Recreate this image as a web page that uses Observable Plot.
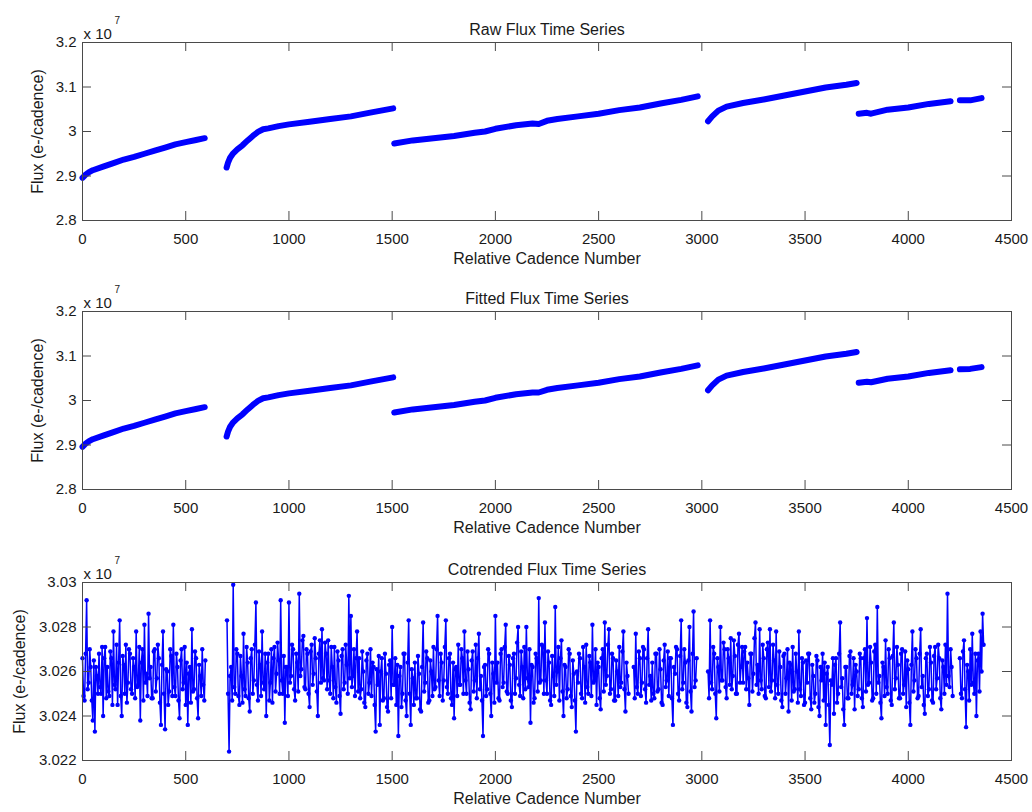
<!DOCTYPE html>
<html>
<head>
<meta charset="utf-8">
<script src="https://cdn.jsdelivr.net/npm/d3@7"></script>
<script src="https://cdn.jsdelivr.net/npm/@observablehq/plot@0.6"></script>
<style>
  body { margin: 0; background: #fff; }
  #chart { width: 1032px; height: 812px; position: relative; background: #fff; }
  #chart svg { display: block; }
</style>
</head>
<body>
<div id="chart"></div>
<script>
// ---------- Data (flux in units of 10^7 e-/cadence) ----------
const xTicks = [0, 500, 1000, 1500, 2000, 2500, 3000, 3500, 4000, 4500];
const trendYTicks = [2.8, 2.9, 3, 3.1, 3.2];
const cotrendYTicks = [3.022, 3.024, 3.026, 3.028, 3.03];
const titles = ["Raw Flux Time Series", "Fitted Flux Time Series", "Cotrended Flux Time Series"];
const xLabel = "Relative Cadence Number";
const yLabel = "Flux (e-/cadence)";

// null separates data gaps
const rawCadence = [
  0, 15, 30, 50, 100, 150, 200, 250, 300, 350, 400, 450, 500, 550, 592, null,
  698, 705, 715, 730, 750, 775, 800, 825, 850, 875, 900, 950, 1000, 1100, 1200, 1300, 1400, 1505, null,
  1510, 1600, 1700, 1800, 1900, 1950, 2000, 2100, 2180, 2210, 2250, 2300, 2400, 2500, 2600, 2700, 2800, 2900, 2980, null,
  3030, 3050, 3080, 3120, 3200, 3300, 3400, 3500, 3600, 3700, 3750, null,
  3760, 3800, 3820, 3900, 4000, 4100, 4205, null,
  4250, 4300, 4355
];
const rawFlux = [
  2.896, 2.903, 2.908, 2.913, 2.921, 2.929, 2.937, 2.943, 2.950, 2.957, 2.964, 2.971, 2.976, 2.981, 2.985, null,
  2.919, 2.930, 2.941, 2.951, 2.960, 2.969, 2.980, 2.990, 2.999, 3.005, 3.007, 3.012, 3.016, 3.022, 3.028, 3.034, 3.043, 3.052, null,
  2.973, 2.980, 2.985, 2.990, 2.997, 3.000, 3.006, 3.014, 3.018, 3.017, 3.024, 3.028, 3.034, 3.040, 3.048, 3.054, 3.063, 3.071, 3.079, null,
  3.023, 3.034, 3.047, 3.056, 3.064, 3.072, 3.081, 3.090, 3.099, 3.105, 3.109, null,
  3.040, 3.042, 3.040, 3.049, 3.054, 3.062, 3.068, null,
  3.070, 3.070, 3.075
];
const fittedCadence = rawCadence;
const fittedFlux = [
  2.896, 2.903, 2.908, 2.913, 2.921, 2.929, 2.937, 2.943, 2.950, 2.957, 2.964, 2.971, 2.976, 2.981, 2.985, null,
  2.919, 2.930, 2.941, 2.951, 2.960, 2.969, 2.980, 2.990, 2.999, 3.005, 3.007, 3.012, 3.016, 3.022, 3.028, 3.034, 3.043, 3.052, null,
  2.973, 2.980, 2.985, 2.990, 2.997, 3.000, 3.006, 3.014, 3.018, 3.018, 3.024, 3.028, 3.034, 3.040, 3.048, 3.054, 3.063, 3.071, 3.079, null,
  3.023, 3.034, 3.047, 3.056, 3.064, 3.072, 3.081, 3.090, 3.099, 3.105, 3.109, null,
  3.040, 3.042, 3.041, 3.049, 3.054, 3.062, 3.068, null,
  3.070, 3.071, 3.075
];

// Cotrended flux: sampled every 5 cadences from the start of each segment
const cadenceStep = 5;
const cotrendStarts = [0, 700, 1510, 2670, 3030, 3760, 4250];
const cotrendSeg1 = [
  3.0266,3.0249, 3.0247,3.0268, 3.0292,3.0252, 3.0255,3.0270, 3.0262,3.0247, 3.0238,3.0265, 3.0233,3.0262, 3.0258,3.0250, 3.0268,3.0253, 3.0250,3.0271,
  3.0240,3.0266, 3.0271,3.0248, 3.0262,3.0251, 3.0249,3.0269, 3.0266,3.0245, 3.0278,3.0254, 3.0252,3.0272, 3.0245,3.0264, 3.0283,3.0249, 3.0240,3.0267,
  3.0263,3.0250, 3.0272,3.0246, 3.0255,3.0270, 3.0268,3.0252, 3.0250,3.0266, 3.0262,3.0248, 3.0278,3.0253, 3.0254,3.0271, 3.0238,3.0264, 3.0270,3.0247,
  3.0281,3.0255, 3.0259,3.0249, 3.0286,3.0257, 3.0262,3.0248, 3.0248,3.0269, 3.0270,3.0251, 3.0257,3.0272, 3.0266,3.0246, 3.0236,3.0263, 3.0278,3.0250,
  3.0234,3.0261, 3.0260,3.0245, 3.0251,3.0270, 3.0267,3.0249, 3.0281,3.0253, 3.0249,3.0268, 3.0262,3.0247, 3.0239,3.0265, 3.0270,3.0252, 3.0255,3.0271,
  3.0245,3.0264, 3.0236,3.0259, 3.0262,3.0246, 3.0279,3.0251, 3.0252,3.0269, 3.0266,3.0248, 3.0239,3.0263, 3.0258,3.0249, 3.0270,3.0254, 3.0247,3.0265];
const cotrendSeg2 = [
  3.0283,3.0250, 3.0224,3.0258, 3.0262,3.0247, 3.0299,3.0253, 3.0250,3.0270, 3.0268,3.0249, 3.0245,3.0267, 3.0258,3.0246, 3.0277,3.0252, 3.0249,3.0271,
  3.0264,3.0248, 3.0242,3.0266, 3.0270,3.0250, 3.0256,3.0272, 3.0291,3.0254, 3.0247,3.0269, 3.0263,3.0249, 3.0278,3.0255, 3.0252,3.0268, 3.0240,3.0264,
  3.0268,3.0247, 3.0255,3.0270, 3.0246,3.0266, 3.0271,3.0251, 3.0259,3.0273, 3.0265,3.0250, 3.0292,3.0256, 3.0250,3.0267, 3.0237,3.0262, 3.0262,3.0249,
  3.0291,3.0255, 3.0258,3.0272, 3.0270,3.0252, 3.0247,3.0268, 3.0264,3.0251, 3.0295,3.0258, 3.0261,3.0274, 3.0276,3.0253, 3.0252,3.0270, 3.0268,3.0250,
  3.0244,3.0269, 3.0272,3.0254, 3.0259,3.0275, 3.0266,3.0251, 3.0240,3.0268, 3.0274,3.0255, 3.0279,3.0257, 3.0256,3.0273, 3.0268,3.0252, 3.0274,3.0256,
  3.0250,3.0271, 3.0262,3.0248, 3.0271,3.0253, 3.0246,3.0269, 3.0265,3.0249, 3.0241,3.0267, 3.0270,3.0252, 3.0255,3.0272, 3.0263,3.0250, 3.0294,3.0257,
  3.0285,3.0253, 3.0258,3.0270, 3.0249,3.0266, 3.0278,3.0251, 3.0266,3.0248, 3.0252,3.0269, 3.0260,3.0246, 3.0244,3.0265, 3.0268,3.0250, 3.0255,3.0270,
  3.0249,3.0264, 3.0262,3.0245, 3.0233,3.0261, 3.0254,3.0267, 3.0236,3.0260, 3.0266,3.0247, 3.0248,3.0268, 3.0259,3.0244, 3.0242,3.0263, 3.0265,3.0248,
  3.0280,3.0254];
const cotrendSeg3 = [
  3.0254,3.0266, 3.0245,3.0263, 3.0231,3.0258, 3.0262,3.0244, 3.0250,3.0268, 3.0268,3.0247, 3.0240,3.0264, 3.0283,3.0250, 3.0236,3.0261, 3.0257,3.0245,
  3.0264,3.0248, 3.0248,3.0267, 3.0259,3.0243, 3.0242,3.0262, 3.0282,3.0251, 3.0255,3.0269, 3.0266,3.0246, 3.0247,3.0265, 3.0260,3.0249, 3.0271,3.0252,
  3.0253,3.0270, 3.0285,3.0256, 3.0249,3.0268, 3.0264,3.0247, 3.0256,3.0271, 3.0283,3.0253, 3.0250,3.0266, 3.0268,3.0248, 3.0245,3.0264, 3.0239,3.0261,
  3.0262,3.0249, 3.0272,3.0254, 3.0254,3.0270, 3.0266,3.0250, 3.0278,3.0256, 3.0250,3.0269, 3.0261,3.0246, 3.0243,3.0265, 3.0269,3.0251, 3.0256,3.0272,
  3.0248,3.0266, 3.0277,3.0252, 3.0258,3.0247, 3.0231,3.0262, 3.0263,3.0249, 3.0252,3.0270, 3.0268,3.0250, 3.0240,3.0264, 3.0259,3.0246, 3.0285,3.0255,
  3.0264,3.0248, 3.0247,3.0268, 3.0270,3.0253, 3.0255,3.0271, 3.0281,3.0251, 3.0250,3.0267, 3.0263,3.0247, 3.0244,3.0266, 3.0268,3.0250, 3.0257,3.0273,
  3.0280,3.0254, 3.0249,3.0269, 3.0262,3.0248, 3.0271,3.0252, 3.0280,3.0257, 3.0253,3.0270, 3.0237,3.0263, 3.0262,3.0246, 3.0248,3.0268, 3.0266,3.0251,
  3.0293,3.0255, 3.0256,3.0272, 3.0271,3.0250, 3.0282,3.0256, 3.0250,3.0269, 3.0264,3.0247, 3.0245,3.0267, 3.0258,3.0249, 3.0289,3.0254, 3.0260,3.0271,
  3.0247,3.0266, 3.0274,3.0251, 3.0240,3.0263, 3.0262,3.0248, 3.0252,3.0270, 3.0268,3.0249, 3.0244,3.0265, 3.0259,3.0247, 3.0233,3.0260, 3.0255,3.0268,
  3.0266,3.0250, 3.0248,3.0271, 3.0262,3.0246, 3.0272,3.0253, 3.0250,3.0267, 3.0264,3.0249, 3.0281,3.0255, 3.0256,3.0270, 3.0245,3.0264, 3.0262,3.0248,
  3.0243,3.0266, 3.0270,3.0251, 3.0282,3.0254, 3.0258,3.0272, 3.0279,3.0250, 3.0252,3.0268, 3.0266,3.0247, 3.0247,3.0265, 3.0260,3.0249, 3.0271,3.0253,
  3.0255,3.0269, 3.0278,3.0252, 3.0242,3.0264, 3.0258,3.0250];
const cotrendSeg4 = [
  3.0262,3.0248, 3.0277,3.0253, 3.0250,3.0269, 3.0266,3.0249, 3.0255,3.0271, 3.0270,3.0252, 3.0246,3.0266, 3.0279,3.0254, 3.0258,3.0247, 3.0264,3.0250,
  3.0248,3.0268, 3.0268,3.0251, 3.0252,3.0270, 3.0261,3.0246, 3.0245,3.0265, 3.0272,3.0253, 3.0256,3.0269, 3.0249,3.0266, 3.0266,3.0248, 3.0236,3.0262,
  3.0259,3.0271, 3.0270,3.0250, 3.0247,3.0267, 3.0283,3.0252, 3.0255,3.0270, 3.0264,3.0246, 3.0244,3.0265, 3.0280,3.0251, 3.0242,3.0268, 3.0287,3.0253,
  3.0256,3.0266];
const cotrendSeg5 = [
  3.0260,3.0248, 3.0283,3.0255, 3.0252,3.0271, 3.0268,3.0250, 3.0239,3.0266, 3.0262,3.0251, 3.0280,3.0256, 3.0256,3.0273, 3.0270,3.0253, 3.0248,3.0270,
  3.0266,3.0254, 3.0275,3.0252, 3.0258,3.0274, 3.0267,3.0250, 3.0250,3.0272, 3.0277,3.0255, 3.0262,3.0271, 3.0255,3.0269, 3.0271,3.0252, 3.0264,3.0257,
  3.0245,3.0268, 3.0268,3.0251, 3.0259,3.0275, 3.0282,3.0254, 3.0263,3.0250, 3.0279,3.0256, 3.0252,3.0272, 3.0266,3.0249, 3.0248,3.0270, 3.0273,3.0253,
  3.0279,3.0251, 3.0256,3.0272, 3.0265,3.0248, 3.0278,3.0254, 3.0250,3.0269, 3.0262,3.0247, 3.0244,3.0267, 3.0268,3.0250, 3.0257,3.0270, 3.0242,3.0264,
  3.0263,3.0247, 3.0271,3.0251, 3.0252,3.0268, 3.0260,3.0246, 3.0278,3.0252, 3.0249,3.0266, 3.0264,3.0245, 3.0246,3.0265, 3.0255,3.0268, 3.0268,3.0248,
  3.0243,3.0263, 3.0258,3.0246, 3.0250,3.0267, 3.0265,3.0244, 3.0240,3.0262, 3.0256,3.0268, 3.0247,3.0264, 3.0236,3.0259, 3.0262,3.0245, 3.0227,3.0256,
  3.0254,3.0266, 3.0241,3.0263, 3.0266,3.0246, 3.0250,3.0268, 3.0282,3.0253, 3.0257,3.0243, 3.0236,3.0262, 3.0262,3.0248, 3.0248,3.0267, 3.0269,3.0250,
  3.0254,3.0266, 3.0243,3.0263, 3.0260,3.0249];
const cotrendSeg6 = [
  3.0252,3.0268, 3.0266,3.0248, 3.0244,3.0266, 3.0270,3.0251, 3.0284,3.0254, 3.0255,3.0271, 3.0264,3.0247, 3.0248,3.0269, 3.0272,3.0250, 3.0289,3.0255,
  3.0258,3.0246, 3.0239,3.0264, 3.0262,3.0249, 3.0274,3.0253, 3.0250,3.0270, 3.0266,3.0247, 3.0245,3.0267, 3.0282,3.0252, 3.0257,3.0271, 3.0263,3.0248,
  3.0248,3.0268, 3.0270,3.0250, 3.0254,3.0269, 3.0244,3.0265, 3.0261,3.0246, 3.0236,3.0263, 3.0278,3.0251, 3.0256,3.0270, 3.0266,3.0248, 3.0249,3.0268,
  3.0279,3.0253, 3.0258,3.0245, 3.0241,3.0266, 3.0268,3.0249, 3.0252,3.0271, 3.0264,3.0247, 3.0246,3.0267, 3.0271,3.0252, 3.0257,3.0272, 3.0266,3.0248,
  3.0243,3.0265, 3.0262,3.0250, 3.0272,3.0254, 3.0295,3.0258, 3.0253,3.0270, 3.0262,3.0249];
const cotrendSeg7 = [
  3.0266,3.0250, 3.0248,3.0269, 3.0274,3.0252, 3.0235,3.0263, 3.0260,3.0247, 3.0270,3.0254, 3.0277,3.0255, 3.0250,3.0268, 3.0240,3.0265, 3.0268,3.0251,
  3.0278,3.0260, 3.0286,3.0272];
const cotrendSegments = [cotrendSeg1, cotrendSeg2, cotrendSeg3, cotrendSeg4, cotrendSeg5, cotrendSeg6, cotrendSeg7];

// ---------- Tables ----------
const rawTable = rawCadence.map((c, i) => ({c, v: rawFlux[i]}));
const fittedTable = fittedCadence.map((c, i) => ({c, v: fittedFlux[i]}));
const cotrendTable = cotrendSegments.flatMap((seg, s) =>
  seg.map((v, i) => ({c: cotrendStarts[s] + i * cadenceStep, v, seg: s})));

// ---------- Drawing ----------
const FONT = "'Liberation Sans', Arial, Helvetica, sans-serif";
const AXIS = "#4a4a4a";
const BLUE = "#0000ff";
const ML = 82, MR = 21, MT = 42, PLOT_H = 178, W = 1032;
const PLOT_W = W - ML - MR;

function panel(title, dataMarks, yDomain, yTicks, height, yLabelDx) {
  return Plot.plot({
    width: W, height,
    marginTop: MT, marginBottom: height - MT - PLOT_H, marginLeft: ML, marginRight: MR,
    style: {fontFamily: FONT, fontSize: "15px", color: "#1a1a1a", background: "#fff", overflow: "visible"},
    x: {domain: [0, 4500], ticks: xTicks, label: null},
    y: {domain: yDomain, ticks: yTicks, label: null},
    marks: [
      ...dataMarks,
      Plot.tickX(xTicks, {x: d => d, insetTop: PLOT_H - 9, stroke: AXIS}),
      Plot.tickX(xTicks, {x: d => d, insetBottom: PLOT_H - 9, stroke: AXIS}),
      Plot.tickY(yTicks, {y: d => d, insetRight: PLOT_W - 9, stroke: AXIS}),
      Plot.tickY(yTicks, {y: d => d, insetLeft: PLOT_W - 9, stroke: AXIS}),
      Plot.axisX(xTicks, {tickSize: 0, tickPadding: 13, tickFormat: d => String(d), label: null, fontSize: 15}),
      Plot.axisY(yTicks, {tickSize: 0, tickPadding: 6, tickFormat: d => String(d), label: null, fontSize: 15}),
      Plot.frame({stroke: AXIS}),
      Plot.text([title], {text: d => d, frameAnchor: "top", dy: -19, fontSize: 16}),
      Plot.text([xLabel], {text: d => d, frameAnchor: "bottom", dy: 43, fontSize: 16}),
      Plot.text([yLabel], {text: d => d, frameAnchor: "left", textAnchor: "middle", dx: yLabelDx, rotate: -90, fontSize: 16}),
      Plot.text(["x 10"], {text: d => d, frameAnchor: "top-left", textAnchor: "start", dx: 1, dy: -14, fontSize: 15}),
      Plot.text(["7"], {text: d => d, frameAnchor: "top-left", textAnchor: "start", dx: 32, dy: -26, fontSize: 10})
    ]
  });
}

const thickLine = (table) => [
  Plot.line(table, {x: "c", y: "v", stroke: BLUE, strokeWidth: 6, strokeLinecap: "round", strokeLinejoin: "round"})
];

const chart = document.getElementById("chart");
chart.append(panel(titles[0], thickLine(rawTable), [2.8, 3.2], trendYTicks, 269, -45));
chart.append(panel(titles[1], thickLine(fittedTable), [2.8, 3.2], trendYTicks, 271, -45));
chart.append(panel(titles[2], [
  Plot.line(cotrendTable, {x: "c", y: "v", z: "seg", stroke: BLUE, strokeWidth: 1.5}),
  Plot.dot(cotrendTable, {x: "c", y: "v", r: 2.2, fill: BLUE, stroke: null})
], [3.022, 3.03], cotrendYTicks, 272, -63));
</script>
</body>
</html>
